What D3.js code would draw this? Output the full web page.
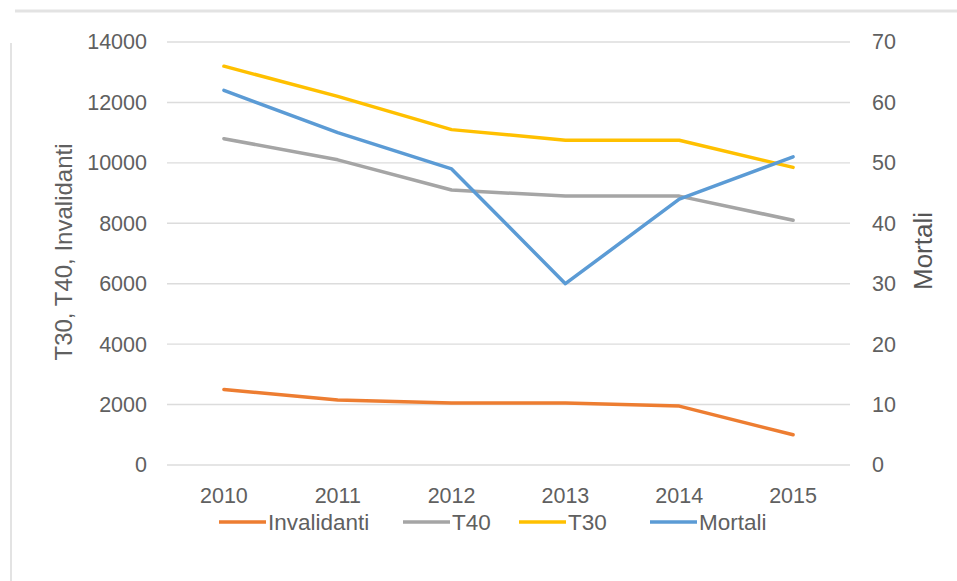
<!DOCTYPE html>
<html><head><meta charset="utf-8">
<script src="https://cdn.jsdelivr.net/npm/d3@7"></script>
<style>body{margin:0;background:#fff;}svg{display:block;font-family:"Liberation Sans",Arial,sans-serif;}</style>
</head><body>
<svg id="c" width="957" height="581"></svg>
<script>
const years = ["2010","2011","2012","2013","2014","2015"];
const invalidanti = [2500, 2150, 2050, 2050, 1950, 1000];
const t40 = [10800, 10100, 9100, 8900, 8900, 8100];
const t30 = [13200, 12200, 11100, 10750, 10750, 9850];
const mortali = [62, 55, 49, 30, 44, 51];
const leftTicks = [0,2000,4000,6000,8000,10000,12000,14000];
const rightTicks = [0,10,20,30,40,50,60,70];
const seriesNames = ["Invalidanti","T40","T30","Mortali"];
const colors = ["#ED7D31","#A5A5A5","#FFC000","#5B9BD5"];

const svg = d3.select("#c");
const m = {l:167, r:850, t:42, b:465};
const x = d3.scaleBand().domain(years).range([m.l, m.r]);
const yL = d3.scaleLinear().domain([0,14000]).range([m.b, m.t]);
const yR = d3.scaleLinear().domain([0,70]).range([m.b, m.t]);
const txt = "#606060";

// frame edges
svg.append("line").attr("x1",15).attr("x2",957).attr("y1",11).attr("y2",11).attr("stroke","#e3e3e3").attr("stroke-width",3);
svg.append("line").attr("x1",11).attr("x2",11).attr("y1",43).attr("y2",581).attr("stroke","#e3e3e3").attr("stroke-width",2);

// grid
svg.append("g").selectAll("line").data(leftTicks).join("line")
  .attr("x1",m.l).attr("x2",m.r).attr("y1",d=>yL(d)).attr("y2",d=>yL(d))
  .attr("stroke","#dcdcdc").attr("stroke-width",1.4);

// left axis
const gl = svg.append("g").attr("transform",`translate(${m.l},0)`)
  .call(d3.axisLeft(yL).tickValues(leftTicks).tickSize(0).tickPadding(20).tickFormat(d3.format("d")));
gl.select(".domain").remove();
gl.selectAll("text").attr("fill",txt).style("font-size","21.5px");

// right axis
const gr = svg.append("g").attr("transform",`translate(${m.r},0)`)
  .call(d3.axisRight(yR).tickValues(rightTicks).tickSize(0).tickPadding(22));
gr.select(".domain").remove();
gr.selectAll("text").attr("fill",txt).style("font-size","21.5px");

// bottom axis
const gb = svg.append("g").attr("transform",`translate(0,${m.b})`)
  .call(d3.axisBottom(x).tickSize(0).tickPadding(23));
gb.select(".domain").remove();
gb.selectAll("text").attr("fill",txt).style("font-size","21.5px");

// axis titles
svg.append("text").attr("transform","translate(72,252) rotate(-90)").attr("text-anchor","middle")
  .attr("fill",txt).style("font-size","24px").text("T30, T40, Invalidanti");
svg.append("text").attr("transform","translate(932,251) rotate(-90)").attr("text-anchor","middle")
  .attr("fill","#555").style("font-size","26px").text("Mortali");

// lines
const cx = d => x(d) + x.bandwidth()/2;
const lineL = d3.line().x((d,i)=>cx(years[i])).y(d=>yL(d));
const lineR = d3.line().x((d,i)=>cx(years[i])).y(d=>yR(d));
const data = [[invalidanti,lineL],[t40,lineL],[t30,lineL],[mortali,lineR]];
data.forEach(([vals,gen],i)=>{
  svg.append("path").attr("d",gen(vals)).attr("fill","none").attr("stroke",colors[i])
    .attr("stroke-width",3.5).attr("stroke-linejoin","round").attr("stroke-linecap","round");
});

// legend
const legX = [219, 403, 519, 650];
const lg = svg.append("g");
seriesNames.forEach((n,i)=>{
  lg.append("line").attr("x1",legX[i]).attr("x2",legX[i]+47).attr("y1",522).attr("y2",522)
    .attr("stroke",colors[i]).attr("stroke-width",3.5);
  lg.append("text").attr("x",legX[i]+49).attr("y",530).attr("fill",txt).style("font-size","22.5px").text(n);
});
</script>
</body></html>
